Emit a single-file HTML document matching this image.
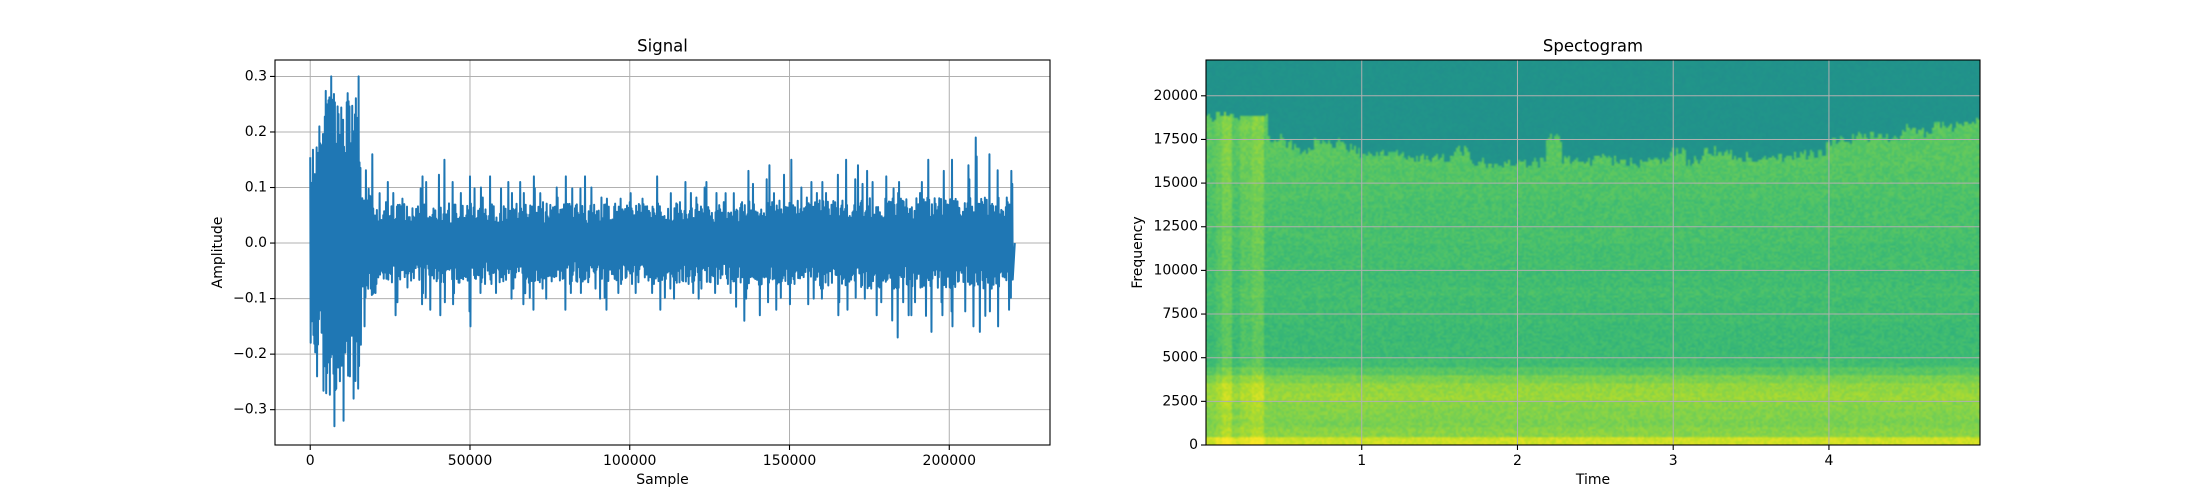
<!DOCTYPE html>
<html><head><meta charset="utf-8"><style>
html,body{margin:0;padding:0;background:#fff;}
#wrap{position:relative;width:2200px;height:500px;font-family:"DejaVu Sans","Liberation Sans",sans-serif;}
svg{position:absolute;left:0;top:0;}
canvas{position:absolute;}
</style></head><body>
<div id="wrap">
<canvas id="spec" width="774" height="385" style="left:1206px;top:60px;width:774px;height:385px;"></canvas>
<svg id="svg" width="2200" height="500"></svg>
</div>
<script>
// ---- Signal data (envelope per 4000-sample bin) ----
const sigBinSize = 4000;
const sigTotal = 220500;
const sigHi = [0.21,0.30,0.27,0.30,0.16,0.09,0.11,0.08,0.12,0.11,0.15,0.11,0.12,0.10,0.12,0.11,0.11,0.12,0.09,0.10,0.12,0.12,0.10,0.08,0.08,0.09,0.08,0.12,0.09,0.11,0.10,0.11,0.09,0.09,0.13,0.14,0.09,0.15,0.10,0.11,0.11,0.15,0.14,0.13,0.11,0.12,0.11,0.11,0.15,0.13,0.15,0.14,0.19,0.16,0.13];
const sigLo = [-0.24,-0.33,-0.32,-0.28,-0.15,-0.09,-0.13,-0.08,-0.11,-0.12,-0.13,-0.11,-0.15,-0.09,-0.09,-0.10,-0.11,-0.12,-0.10,-0.12,-0.09,-0.09,-0.10,-0.12,-0.09,-0.09,-0.09,-0.12,-0.10,-0.09,-0.10,-0.09,-0.09,-0.14,-0.10,-0.13,-0.12,-0.11,-0.11,-0.10,-0.10,-0.13,-0.12,-0.10,-0.13,-0.17,-0.13,-0.13,-0.16,-0.13,-0.15,-0.15,-0.16,-0.15,-0.12];
const sigCore = [0.17,0.25,0.24,0.24,0.09,0.065,0.065,0.065,0.065,0.065,0.065,0.065,0.065,0.065,0.065,0.065,0.065,0.065,0.065,0.065,0.065,0.065,0.065,0.065,0.065,0.065,0.065,0.065,0.065,0.065,0.065,0.065,0.065,0.065,0.07,0.07,0.07,0.07,0.07,0.07,0.07,0.07,0.07,0.075,0.075,0.075,0.075,0.075,0.075,0.075,0.075,0.075,0.075,0.075,0.075];
const sigXTicks = [0,50000,100000,150000,200000];
const sigYTicks = [-0.3,-0.2,-0.1,0.0,0.1,0.2,0.3];

// ---- Spectrogram data ----
const specCols = 50;
const specTmax = 4.97;
const specBandHz = 500;
const specLevels = [0.93,0.82,0.80,0.81,0.82,0.85,0.84,0.80,0.74,0.69,0.68,0.68,0.68,0.68,0.69,0.69,0.69,0.70,0.69,0.69,0.70,0.70,0.70,0.71,0.71,0.71,0.71,0.71,0.72,0.72,0.73,0.73,0.74,0.74,0.74,0.74,0.75,0.75,0.76,0.76,0.76,0.76,0.76,0.76,0.76];
const specTop = 0.51;
const specCutoff = [18800,18800,18800,18800,17500,17200,17000,17400,17300,17000,16500,16700,16600,16300,16500,16400,16800,16200,16200,16100,16100,16200,17600,16300,16200,16500,16300,16200,16400,16200,16800,16300,16900,16800,16500,16400,16600,16500,16600,16700,17400,17500,17600,17800,17500,18100,17900,18300,18200,18500];
const specBurst = [0.02,0.06,0.03,0.06,0.0,0,0,0,0,0,0,0,0,0,0,0,0,0,0,0,0,0,0,0,0,0,0,0,0,0,0,0,0,0,0,0,0,0,0,0,0,0,0,0,0,0,0,0,0,0];
const specXTicks = [1,2,3,4];
const specYTicks = [0,2500,5000,7500,10000,12500,15000,17500,20000];

const NS='http://www.w3.org/2000/svg';
const svg=document.getElementById('svg');
function mk(tag,attrs,parent){const e=document.createElementNS(NS,tag);for(const k in attrs)e.setAttribute(k,attrs[k]);(parent||svg).appendChild(e);return e;}
function txt(s,x,y,anchor,size,parent,rot){const t=mk('text',{x:x,y:y,'text-anchor':anchor,'font-size':size,fill:'#000','dominant-baseline':'central'},parent);if(rot)t.setAttribute('transform','rotate(-90 '+x+' '+y+')');t.textContent=s;return t;}
function hash(a,b){let h=(a*374761393+b*668265263)|0;h=(h^(h>>>13))*1274126177|0;return ((h^(h>>>16))>>>0)/4294967295;}

// ===== Signal axes =====
const L1={x0:275,x1:1050,y0:60,y1:445};
const sxMin=-11025,sxMax=231525,syMin=-0.3636,syMax=0.3296;
const sx=v=>L1.x0+(v-sxMin)/(sxMax-sxMin)*(L1.x1-L1.x0);
const sy=v=>L1.y1-(v-syMin)/(syMax-syMin)*(L1.y1-L1.y0);
const g1=mk('g',{});


sigXTicks.forEach(v=>{const l=mk('line',{x1:sx(v),x2:sx(v),y1:L1.y0,y2:L1.y1,stroke:'#b0b0b0','stroke-width':1},g1);});
sigYTicks.forEach(v=>{const l=mk('line',{x1:L1.x0,x2:L1.x1,y1:sy(v),y2:sy(v),stroke:'#b0b0b0','stroke-width':1},g1);});
let pts=[];
const N=28;
for(let i=0;i<sigHi.length;i++){
  const s0=i*sigBinSize, s1=Math.min((i+1)*sigBinSize,sigTotal), w=(s1-s0);
  const c=sigCore[i];
  const hiPos=2*Math.floor(hash(i,1)*N/2), loPos=2*Math.floor(hash(i,2)*N/2)+1;
  const hi2=2*Math.floor(hash(i,3)*N/2), lo2=2*Math.floor(hash(i,4)*N/2)+1;
  for(let k=0;k<N;k++){
    const sign=(k%2===0)?1:-1;
    let v=sign*c*(0.5+0.6*hash(i,k+10));
    if(k===hiPos) v=sigHi[i];
    else if(k===hi2) v=Math.max(c,sigHi[i]*0.82);
    if(k===loPos) v=sigLo[i];
    else if(k===lo2) v=Math.min(-c,sigLo[i]*0.82);
    pts.push(sx(s0+(k/N)*w).toFixed(2)+','+sy(v).toFixed(1));
  }
}
pts.push(sx(sigTotal).toFixed(1)+','+sy(0).toFixed(1));
const pl=mk('polyline',{points:pts.join(' '),fill:'none',stroke:'#1f77b4','stroke-width':2,'stroke-linejoin':'round'},g1);


mk('rect',{x:L1.x0,y:L1.y0,width:L1.x1-L1.x0,height:L1.y1-L1.y0,fill:'none',stroke:'#000','stroke-width':1.1},g1);
sigXTicks.forEach(v=>{mk('line',{x1:sx(v),x2:sx(v),y1:L1.y1,y2:L1.y1+5,stroke:'#000','stroke-width':1.1},g1);const t=txt(String(v),sx(v),L1.y1+16,'middle',14,g1);});
sigYTicks.forEach(v=>{mk('line',{x1:L1.x0-5,x2:L1.x0,y1:sy(v),y2:sy(v),stroke:'#000','stroke-width':1.1},g1);const t=txt((v<0?'\u2212':'')+Math.abs(v).toFixed(1),L1.x0-8,sy(v),'end',14,g1);});
let t1=txt('Signal',(L1.x0+L1.x1)/2,46,'middle',16.5,g1);
let t2=txt('Sample',(L1.x0+L1.x1)/2,480,'middle',14,g1);
let t3=txt('Amplitude',218,(L1.y0+L1.y1)/2,'middle',14,g1,true);

// ===== Spectrogram =====
const L2={x0:1206,x1:1980,y0:60,y1:445};
const txMin=0,txMax=specTmax,fyMax=22050;
const tx=v=>L2.x0+(v-txMin)/(txMax-txMin)*(L2.x1-L2.x0);
const fy=v=>L2.y1-v/fyMax*(L2.y1-L2.y0);
const vir=['#440154','#482475','#414487','#355f8d','#2a788e','#21918c','#22a884','#44bf70','#7ad151','#bddf26','#fde725'];
function hex(h){return [parseInt(h.substr(1,2),16),parseInt(h.substr(3,2),16),parseInt(h.substr(5,2),16)];}
function viridis(v){v=Math.max(0,Math.min(1,v));const p=v*10,i=Math.min(9,Math.floor(p)),f=p-i;const a=hex(vir[i]),b=hex(vir[i+1]);return a.map((c,k)=>Math.round(c+(b[k]-c)*f));}
const W=387,H=193;
const off=document.createElement('canvas');
off.width=W;off.height=H;
const octx=off.getContext('2d');
const img=octx.createImageData(W,H);
for(let x=0;x<W;x++){
  const t=(x+0.5)/W*specTmax;
  const c=Math.min(specCols-1,Math.floor(t/specTmax*specCols));
  const burstCol=Math.min(specCols-1,Math.floor(t/0.1));
  const inBurst=(t>0.06&&t<0.17)||(t>0.22&&t<0.37);
  for(let y=0;y<H;y++){
    const f=(H-1-y+0.5)/H*fyMax;
    const r=Math.min(specLevels.length-1,Math.floor(f/specBandHz));
    const cutoff=specCutoff[c]+(hash(x,7)-0.5)*600;
    let v;
    if(f>cutoff && !(inBurst&&f<18800)) v=specTop+(hash(x,y)-0.5)*0.03;
    else {
      v=specLevels[r]+(hash(x,y)-0.5)*0.07;
      if(inBurst) v+=specBurst[burstCol]+0.01;
    }
    const col=viridis(v);const idx=(y*W+x)*4;
    img.data[idx]=col[0];img.data[idx+1]=col[1];img.data[idx+2]=col[2];img.data[idx+3]=255;
  }
}
octx.putImageData(img,0,0);
const cv=document.getElementById('spec');const ctx=cv.getContext('2d');
ctx.imageSmoothingEnabled=true;
ctx.drawImage(off,0,0,774,385);
const g2=mk('g',{});


specXTicks.forEach(v=>{const l=mk('line',{x1:tx(v),x2:tx(v),y1:L2.y0,y2:L2.y1,stroke:'#b0b0b0','stroke-width':1},g2);});
specYTicks.forEach(v=>{const l=mk('line',{x1:L2.x0,x2:L2.x1,y1:fy(v),y2:fy(v),stroke:'#b0b0b0','stroke-width':1},g2);});
mk('rect',{x:L2.x0,y:L2.y0,width:L2.x1-L2.x0,height:L2.y1-L2.y0,fill:'none',stroke:'#000','stroke-width':1.1},g2);
specXTicks.forEach(v=>{mk('line',{x1:tx(v),x2:tx(v),y1:L2.y1,y2:L2.y1+5,stroke:'#000','stroke-width':1.1},g2);const t=txt(String(v),tx(v),L2.y1+16,'middle',14,g2);});
specYTicks.forEach(v=>{mk('line',{x1:L2.x0-5,x2:L2.x0,y1:fy(v),y2:fy(v),stroke:'#000','stroke-width':1.1},g2);const t=txt(String(v),L2.x0-8,fy(v),'end',14,g2);});
let t4=txt('Spectogram',(L2.x0+L2.x1)/2,46,'middle',16.5,g2);
let t5=txt('Time',(L2.x0+L2.x1)/2,480,'middle',14,g2);
let t6=txt('Frequency',1138,(L2.y0+L2.y1)/2,'middle',14,g2,true);
</script>
</body></html>
